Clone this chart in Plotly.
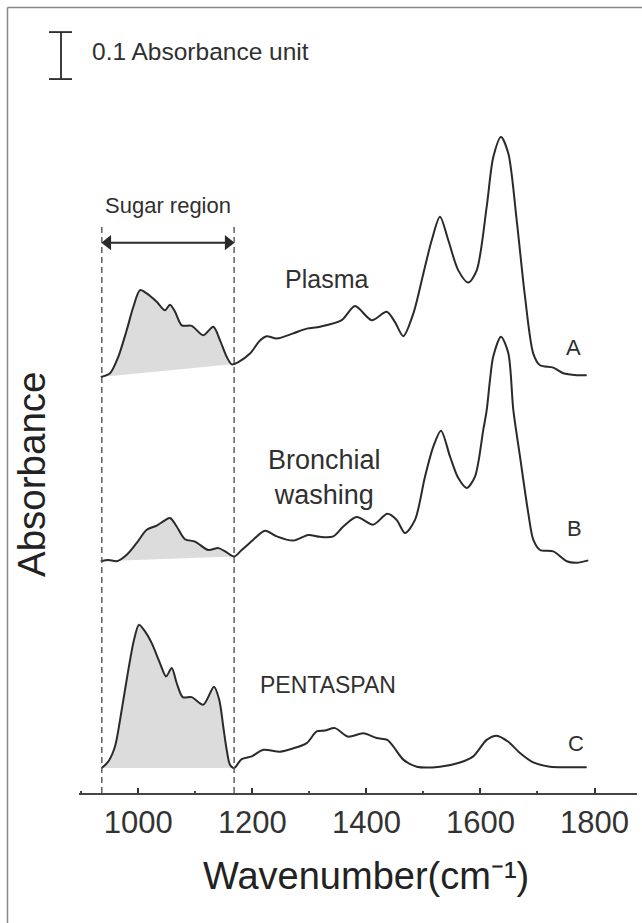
import plotly.graph_objects as go

# ---------------- data ----------------
WN_A = [934.1, 950.4, 964.9, 979.7, 991.2, 1003.0, 1014.7, 1032.3, 1046.8, 1055.6, 1064.4,
        1076.1, 1093.6, 1114.0, 1131.5, 1143.3, 1155.0, 1163.8, 1175.4, 1195.9, 1213.4,
        1225.1, 1242.7, 1271.8, 1295.3, 1318.6, 1356.7, 1380.0, 1409.3, 1435.6, 1450.1,
        1464.7, 1482.2, 1499.8, 1514.5, 1529.0, 1543.6, 1561.1, 1578.7, 1593.4, 1610.9,
        1622.5, 1636.0, 1648.8, 1663.5, 1678.1, 1692.6, 1704.4, 1727.7, 1745.2, 1768.7, 1786.3]
ABS_A = [-0.004, 0.004, 0.039, 0.096, 0.145, 0.181, 0.174, 0.156, 0.138, 0.150, 0.135,
         0.106, 0.105, 0.085, 0.103, 0.074, 0.039, 0.023, 0.028, 0.046, 0.074,
         0.083, 0.078, 0.089, 0.099, 0.103, 0.117, 0.147, 0.117, 0.135, 0.113,
         0.083, 0.131, 0.216, 0.287, 0.337, 0.287, 0.223, 0.197, 0.223, 0.358,
         0.464, 0.507, 0.472, 0.330, 0.167, 0.046, 0.021, 0.016, 0.004, 0.0, 0.0]

WN_B = [934.1, 947.4, 962.1, 979.7, 997.2, 1014.7, 1032.3, 1043.8, 1055.6, 1067.3, 1081.9,
        1099.4, 1122.7, 1140.3, 1155.0, 1167.8, 1181.3, 1201.7, 1222.2, 1242.7, 1271.8,
        1298.1, 1318.6, 1341.9, 1359.5, 1383.0, 1412.1, 1436.6, 1453.1, 1467.7, 1485.2,
        1502.7, 1517.3, 1530.8, 1546.6, 1561.1, 1575.9, 1590.4, 1605.0, 1611.0, 1616.7,
        1622.5, 1636.0, 1648.8, 1657.6, 1669.3, 1683.9, 1692.6, 1704.4, 1727.7, 1751.2,
        1768.7, 1789.1]
ABS_B = [-0.001, 0.002, -0.001, 0.013, 0.038, 0.066, 0.075, 0.084, 0.091, 0.073, 0.046,
         0.041, 0.023, 0.027, 0.018, 0.009, 0.023, 0.045, 0.064, 0.052, 0.043,
         0.055, 0.051, 0.052, 0.073, 0.093, 0.077, 0.100, 0.087, 0.059, 0.087,
         0.179, 0.243, 0.277, 0.222, 0.176, 0.155, 0.179, 0.279, 0.321, 0.385,
         0.435, 0.477, 0.442, 0.321, 0.222, 0.101, 0.045, 0.023, 0.020, -0.001,
         -0.004, 0.001]

WN_C = [935.8, 947.4, 959.1, 970.9, 982.5, 992.5, 1001.2, 1011.7, 1023.5, 1038.1, 1048.6,
        1058.6, 1067.3, 1077.9, 1093.6, 1114.0, 1132.7, 1142.0, 1149.0, 1155.0, 1160.8,
        1167.8, 1181.3, 1198.8, 1219.2, 1248.5, 1271.8, 1295.3, 1312.8, 1327.4, 1344.9,
        1367.7, 1394.5, 1418.0, 1436.6, 1447.1, 1464.7, 1488.2, 1529.0, 1564.1, 1587.4,
        1610.9, 1628.5, 1648.8, 1669.3, 1692.6, 1721.9, 1751.2, 1786.3]
ABS_C = [-0.002, 0.012, 0.044, 0.122, 0.207, 0.271, 0.303, 0.289, 0.264, 0.221, 0.193,
         0.211, 0.179, 0.149, 0.149, 0.133, 0.171, 0.143, 0.086, 0.037, 0.005,
         -0.002, 0.017, 0.023, 0.037, 0.033, 0.040, 0.051, 0.076, 0.078, 0.083,
         0.065, 0.072, 0.062, 0.058, 0.044, 0.016, 0.001, 0.001, 0.010, 0.023,
         0.058, 0.067, 0.054, 0.030, 0.010, 0.001, 0.0, 0.0]

OFFSET_A = 0.889
OFFSET_B = 0.494
OFFSET_C = 0.055

SUGAR_REGION = [936, 1168]
SCALE_BAR = 0.1

TICK_VALUES = [1000, 1200, 1400, 1600, 1800]
TICK_LABELS = ["1000", "1200", "1400", "1600", "1800"]

SAMPLE_NAMES = ["Plasma", "Bronchial<br>washing", "PENTASPAN"]
CURVE_LETTERS = ["A", "B", "C"]

# ---------------- figure ----------------
FONT = "Liberation Sans, Arial, Helvetica, sans-serif"
INK = "#2a2a2a"
TXT = "#303030"
W, H = 642, 923
ML, MR, MT, MB = 79, 5, 10, 130
PW, PH = W - ML - MR, H - MT - MB
Y_MAX = PH / 470.0


def px2paper_x(px):
    return (px - ML) / PW


def py2paper_y(py):
    return (H - MB - py) / PH


fig = go.Figure()
spectra = [(WN_A, ABS_A, OFFSET_A), (WN_B, ABS_B, OFFSET_B), (WN_C, ABS_C, OFFSET_C)]

# grey shaded sugar bands (closed polygon: curve + straight baseline)
for wn, ab, off in spectra:
    seg = [(w, a + off) for w, a in zip(wn, ab) if w <= SUGAR_REGION[1] + 1]
    fig.add_trace(go.Scatter(
        x=[s[0] for s in seg], y=[s[1] for s in seg], mode="lines",
        fill="toself", fillcolor="#dcdcdc",
        line=dict(width=0, shape="spline", smoothing=0.8),
        hoverinfo="skip", showlegend=False))

for wn, ab, off in spectra:
    fig.add_trace(go.Scatter(
        x=wn, y=[a + off for a in ab], mode="lines",
        line=dict(color=INK, width=2, shape="spline", smoothing=0.8),
        hoverinfo="skip", showlegend=False))

# double-headed arrow over the sugar region
ARROW_Y = 1.171
head_dx = 10.5
fig.add_trace(go.Scatter(
    x=[SUGAR_REGION[0] + head_dx, SUGAR_REGION[1] - head_dx], y=[ARROW_Y, ARROW_Y],
    mode="markers", marker=dict(symbol=["triangle-left", "triangle-right"], size=13,
                                color=INK, line=dict(width=0)),
    hoverinfo="skip", showlegend=False))

shapes = []
shapes.append(dict(type="line", xref="x", yref="y", x0=SUGAR_REGION[0] + 5, x1=SUGAR_REGION[1] - 5,
                   y0=ARROW_Y, y1=ARROW_Y, line=dict(color=INK, width=2)))
# dashed sugar-region boundaries
for xv in SUGAR_REGION:
    shapes.append(dict(type="line", xref="x", yref="y", x0=xv, x1=xv, y0=0, y1=1.204,
                       line=dict(color="#555555", width=1.4, dash="6px,4px")))
# scale bar (0.1 absorbance unit)
sb_y0 = 1.519
shapes.append(dict(type="line", xref="paper", yref="y", x0=px2paper_x(61), x1=px2paper_x(61),
                   y0=sb_y0, y1=sb_y0 + SCALE_BAR, line=dict(color=INK, width=1.8)))
for yy in (sb_y0, sb_y0 + SCALE_BAR):
    shapes.append(dict(type="line", xref="paper", yref="y", x0=px2paper_x(49), x1=px2paper_x(72),
                       y0=yy, y1=yy, line=dict(color=INK, width=1.8)))
# picture frame (left and top edges)
shapes.append(dict(type="line", xref="paper", yref="paper", x0=px2paper_x(7.5), x1=px2paper_x(7.5),
                   y0=py2paper_y(7.5), y1=py2paper_y(930), line=dict(color="#888888", width=1.5)))
shapes.append(dict(type="line", xref="paper", yref="paper", x0=px2paper_x(7.5), x1=px2paper_x(650),
                   y0=py2paper_y(7.5), y1=py2paper_y(7.5), line=dict(color="#888888", width=1.5)))


def label(x, y, text, size, xref="x", yref="y", **kw):
    d = dict(x=x, y=y, xref=xref, yref=yref, text=text, showarrow=False,
             xanchor=kw.pop("xanchor", "center"), yanchor=kw.pop("yanchor", "middle"),
             font=dict(family=FONT, size=size, color=kw.pop("color", TXT)))
    d.update(kw)
    return d


annotations = [
    label(1052, 1.251, "Sugar region", 22),
    label(px2paper_x(90), 1.577, "0.1 Absorbance unit", 24.5, xref="paper", xanchor="left"),
    label(1330, 1.094, SAMPLE_NAMES[0], 25),
    label(1327, 0.672, SAMPLE_NAMES[1], 27),
    label(1333, 0.230, SAMPLE_NAMES[2], 23),
    label(1763, 0.948, CURVE_LETTERS[0], 22),
    label(1765, 0.563, CURVE_LETTERS[1], 22),
    label(1767, 0.105, CURVE_LETTERS[2], 22),
    # axis titles
    label(px2paper_x(366), py2paper_y(899), "Wavenumber(cm\u207b\u00b9)", 38,
          xref="paper", yref="paper", yanchor="bottom", color="#222222"),
    label(px2paper_x(31), py2paper_y(475), "Absorbance", 38.5, xref="paper", yref="paper",
          textangle=-90, color="#222222"),
]

fig.update_layout(
    width=W, height=H,
    margin=dict(l=ML, r=MR, t=MT, b=MB, pad=0),
    paper_bgcolor="white", plot_bgcolor="white",
    shapes=shapes, annotations=annotations,
    xaxis=dict(range=[896, 1874.5], showline=True, linecolor="#444444", linewidth=1.5,
               ticks="inside", ticklen=5, tickwidth=2, tickcolor="#333333",
               tickvals=TICK_VALUES, ticktext=TICK_LABELS,
               tickfont=dict(family=FONT, size=31, color="#333333"),
               ticklabelstandoff=1,
               showgrid=False, zeroline=False, fixedrange=True,
               minor=dict(ticks="inside", ticklen=2, tickwidth=2, tickcolor="#444444",
                          dtick=100, tick0=1000, showgrid=False)),
    yaxis=dict(range=[0, Y_MAX], visible=False, fixedrange=True),
)

fig.write_html(
    "out.html",
    config={"displayModeBar": False, "staticPlot": True},
    post_script="document.body.style.margin='0';document.body.style.padding='0';"
                "document.documentElement.style.overflow='hidden';",
)
